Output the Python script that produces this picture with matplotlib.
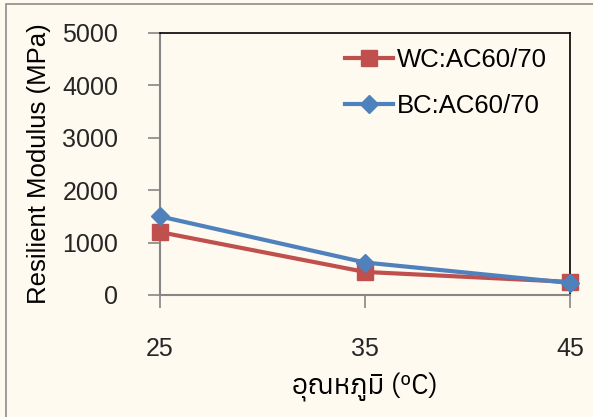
import matplotlib
matplotlib.use("Agg")
import matplotlib.pyplot as plt
from matplotlib import font_manager
from matplotlib.patches import Rectangle
from matplotlib.ft2font import FT2Font

#%% DATA
temps = [25, 35, 45]
wc_ac6070 = [1200, 440, 250]
bc_ac6070 = [1500, 620, 230]
labels = ["WC:AC60/70", "BC:AC60/70"]
yticks = [0, 1000, 2000, 3000, 4000, 5000]

#%% FIND A FONT WITH THAI GLYPHS
thai_fonts = []
for f in font_manager.fontManager.ttflist:
    try:
        if ord("อ") in FT2Font(f.fname).get_charmap():
            thai_fonts.append(f.name)
    except Exception:
        pass
thai_fonts = sorted(set(thai_fonts))

plt.rcParams["font.family"] = ["Liberation Sans", "DejaVu Sans"]
bg = "#FEFAF0"

fig = plt.figure(figsize=(5.93, 4.17), dpi=100, facecolor=bg)
fig.patches.append(Rectangle((6/593, -0.05), 1, 1.05 - 4/417, transform=fig.transFigure,
                             fill=False, edgecolor="#8C8C8C", linewidth=1.2))
ax = fig.add_axes([160/593, 1 - 295/417, 410/593, 262/417], facecolor=bg)

ax.plot(temps, wc_ac6070, "-s", color="#C0504D", lw=3, ms=11, label=labels[0],
        clip_on=False, zorder=3)
ax.plot(temps, bc_ac6070, "-D", color="#4F81BD", lw=3, ms=9.5, label=labels[1],
        clip_on=False, zorder=4)

ax.set_xlim(25, 45)
ax.set_ylim(0, 5000)
ax.set_xticks(temps)
ax.set_yticks(yticks)
ax.tick_params(axis="both", labelsize=18, color="#868686", length=9, width=1.2,
               labelcolor="#262626")
ax.tick_params(axis="x", pad=21)
ax.tick_params(axis="y", pad=21)
for s in ["left", "bottom"]:
    ax.spines[s].set_color("#868686")
    ax.spines[s].set_linewidth(1.5)
for s in ["top", "right"]:
    ax.spines[s].set_color("black")
    ax.spines[s].set_linewidth(1.2)

ax.set_ylabel("Resilient Modulus (MPa)", fontsize=18.5, color="black", labelpad=8)
ax.set_xlabel("อุณหภูมิ (ºC)", fontsize=20, fontweight="bold",
              family=thai_fonts[:1] + ["DejaVu Sans"], labelpad=9)

ax.legend(loc="upper left", bbox_to_anchor=(0.395, 1.03), frameon=False, fontsize=18.5,
          handlelength=1.85, labelspacing=0.85, handletextpad=0.15)

fig.savefig("out.png", dpi=100, facecolor=bg)
